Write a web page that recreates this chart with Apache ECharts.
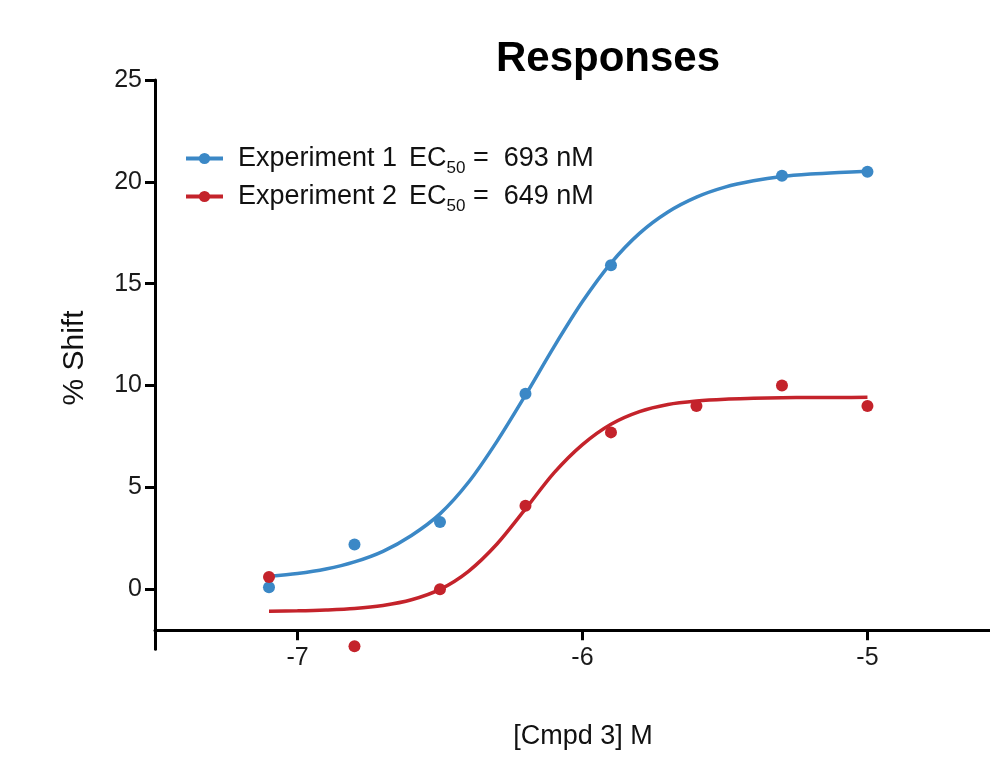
<!DOCTYPE html>
<html>
<head>
<meta charset="utf-8">
<title>Responses</title>
<script src="https://cdn.jsdelivr.net/npm/echarts@6/dist/echarts.min.js"></script>
<style>
  html, body { margin: 0; padding: 0; background: #fff; }
  #chart { width: 990px; height: 762px; }
</style>
</head>
<body>
<div id="chart"></div>
<script>
  // measured points, x = log [Cmpd 3] (M)
  var logDose = [-7.1, -6.8, -6.5, -6.2, -5.9, -5.6, -5.3, -5.0];
  var exp1Points = [0.1, 2.2, 3.3, 9.6, 15.9, null, 20.3, 20.5];
  var exp2Points = [0.6, -2.8, 0.0, 4.1, 7.7, 9.0, 10.0, 9.0];

  // fitted curves, every 0.1 log unit
  var fitDose = [-7.1, -7.0, -6.9, -6.8, -6.7, -6.6, -6.5, -6.4, -6.3, -6.2, -6.1,
                 -6.0, -5.9, -5.8, -5.7, -5.6, -5.5, -5.4, -5.3, -5.2, -5.1, -5.0];
  var exp1Fit = [0.64, 0.77, 0.99, 1.34, 1.86, 2.64, 3.7, 5.25, 7.26, 9.53, 11.90,
                 14.12, 16.01, 17.47, 18.52, 19.25, 19.74, 20.05, 20.26, 20.38, 20.46, 20.52];
  var exp2Fit = [-1.08, -1.06, -1.02, -0.95, -0.80, -0.52, -0.01, 0.88, 2.22, 3.94, 5.71,
                 7.10, 8.10, 8.72, 9.07, 9.24, 9.33, 9.37, 9.40, 9.41, 9.41, 9.42];

  var seriesNames = ['Experiment 1', 'Experiment 2'];
  var ec50Labels = ['693 nM', '649 nM'];
  var xTicks = [-7, -6, -5];
  var yTicks = [0, 5, 10, 15, 20, 25];

  var colors = ['#3b88c6', '#c4232b'];
  var font = 'Liberation Sans, Arial, Helvetica, sans-serif';

  function pairs (xs, ys) {
    var out = [];
    xs.forEach(function (x, i) {
      if (ys[i] !== null) {
        out.push([x, ys[i]]);
      }
    });
    return out;
  }

  var chart = echarts.init(document.getElementById('chart'));

  chart.setOption({
    animation: false,
    color: colors,
    title: {
      text: 'Responses',
      left: 603,
      top: 33,
      textAlign: 'center',
      textStyle: { fontFamily: font, fontSize: 42, fontWeight: 'bold', color: '#000' }
    },
    legend: {
      orient: 'vertical',
      left: 184,
      top: 145,
      padding: 0,
      itemWidth: 37,
      itemHeight: 14,
      itemGap: 6,
      data: seriesNames,
      lineStyle: { width: 4 },
      formatter: function (name) {
        var i = seriesNames.indexOf(name);
        return '{t|' + name + '}{g|}{t|EC}{s|50}{t| =  ' + ec50Labels[i] + '}';
      },
      textStyle: {
        fontFamily: font,
        color: '#111',
        padding: [0, 0, 0, 10],
        rich: {
          t: { fontFamily: font, fontSize: 27, color: '#111', lineHeight: 30 },
          g: { width: 12 },
          s: { fontFamily: font, fontSize: 17, color: '#111', padding: [20, 0, 0, 0] }
        }
      }
    },
    grid: {
      left: 155,
      right: 0,
      top: 80,
      bottom: 112.7
    },
    xAxis: {
      type: 'value',
      min: -7.5,
      max: -4.57,
      offset: -19,
      splitLine: { show: false },
      axisLine: { onZero: false, lineStyle: { color: '#000', width: 3 } },
      axisTick: { customValues: xTicks, length: 10, lineStyle: { color: '#000', width: 3 } },
      axisLabel: { customValues: xTicks, margin: 15, fontFamily: font, fontSize: 25, color: '#1a1a1a' }
    },
    yAxis: {
      type: 'value',
      min: -2.95,
      max: 25,
      splitLine: { show: false },
      axisLine: { lineStyle: { color: '#000', width: 3 } },
      axisTick: { customValues: yTicks, length: 10, lineStyle: { color: '#000', width: 3 } },
      axisLabel: { customValues: yTicks, margin: 13, fontFamily: font, fontSize: 25, color: '#1a1a1a' }
    },
    graphic: [
      {
        type: 'text',
        x: 75,
        y: 358,
        rotation: Math.PI / 2,
        style: { text: '% Shift', fontFamily: font, fontSize: 30, fill: '#111', align: 'center', verticalAlign: 'middle' }
      },
      {
        type: 'text',
        x: 583,
        y: 737,
        style: { text: '[Cmpd 3] M', fontFamily: font, fontSize: 27, fill: '#111', align: 'center', verticalAlign: 'middle' }
      }
    ],
    series: [
      {
        name: seriesNames[0],
        type: 'line',
        data: pairs(fitDose, exp1Fit),
        smooth: 0.3,
        symbol: 'circle',
        symbolSize: 12,
        showSymbol: false,
        lineStyle: { width: 3.5, color: colors[0] },
        itemStyle: { color: colors[0] }
      },
      {
        name: seriesNames[1],
        type: 'line',
        data: pairs(fitDose, exp2Fit),
        smooth: 0.3,
        symbol: 'circle',
        symbolSize: 12,
        showSymbol: false,
        lineStyle: { width: 3.5, color: colors[1] },
        itemStyle: { color: colors[1] }
      },
      {
        name: seriesNames[0] + ' points',
        type: 'scatter',
        data: pairs(logDose, exp1Points),
        symbolSize: 12,
        clip: false,
        itemStyle: { color: colors[0], opacity: 1 },
        z: 3
      },
      {
        name: seriesNames[1] + ' points',
        type: 'scatter',
        data: pairs(logDose, exp2Points),
        symbolSize: 12,
        clip: false,
        itemStyle: { color: colors[1], opacity: 1 },
        z: 3
      }
    ]
  });
</script>
</body>
</html>
